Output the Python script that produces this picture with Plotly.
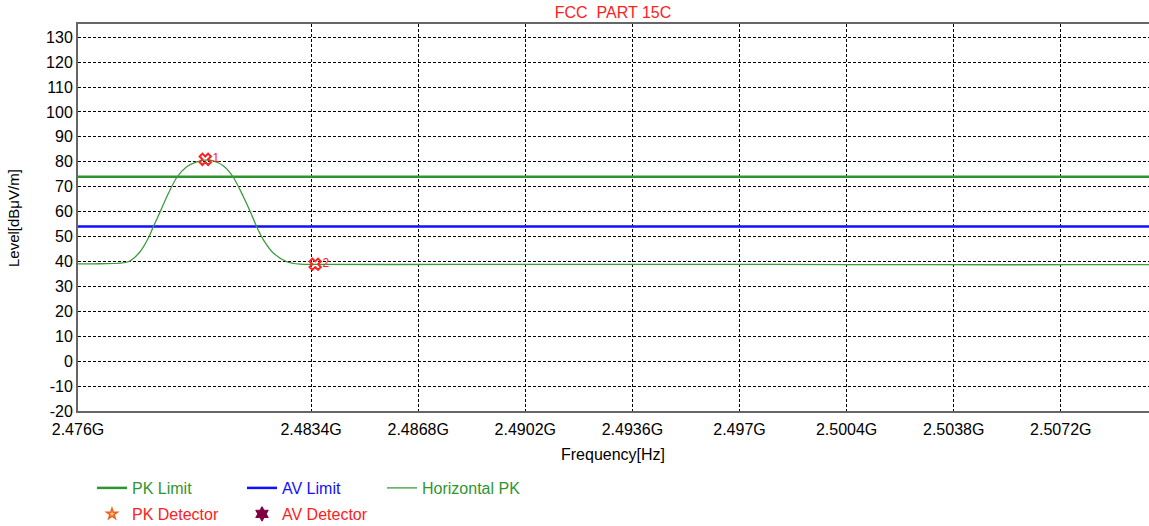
import plotly.graph_objects as go

# ---- data ----
freq_ghz = [2.47600, 2.47670, 2.47760, 2.47797, 2.47823, 2.47839, 2.47861, 2.47882,
            2.47914, 2.47945, 2.47977, 2.48004, 2.48030, 2.48062, 2.48093, 2.48125,
            2.48147, 2.48168, 2.48189, 2.48221, 2.48263, 2.48305, 2.48353, 2.48800,
            2.49300, 2.49800, 2.50300, 2.50800, 2.51000]
level_dbuv = [39.0, 39.1, 39.9, 43.9, 49.3, 53.9, 60.0, 66.0,
              73.8, 78.0, 80.0, 80.7, 80.4, 78.3, 73.8, 66.0,
              60.0, 53.7, 48.6, 43.3, 39.9, 38.9, 38.8, 38.8,
              38.8, 38.8, 38.7, 38.7, 38.7]

limit_x = [2.476, 2.51]
pk_limit = [74, 74]
av_limit = [54, 54]

marker_x = [2.48004, 2.48353]
marker_y = [81.0, 38.9]
marker_labels = ["1", "2"]

xtick_vals = [2.476, 2.4834, 2.4868, 2.4902, 2.4936, 2.4970, 2.5004, 2.5038, 2.5072]
xtick_text = ["2.476G", "2.4834G", "2.4868G", "2.4902G", "2.4936G", "2.497G",
              "2.5004G", "2.5038G", "2.5072G"]
ytick_vals = list(range(-20, 131, 10))
ytick_text = [str(v) for v in ytick_vals]

FONT = "Liberation Sans, Arial, sans-serif"
GREEN = "#2f962f"
BLUE = "#1010ff"
RED = "#ff2020"

W, H = 1149, 526
ML, MR, MT, MB = 78, 0, 24, 115
PW, PH = W - ML - MR, H - MT - MB

fig = go.Figure()

fig.add_trace(go.Scatter(x=limit_x, y=pk_limit, mode="lines", name="PK Limit",
                         line=dict(color=GREEN, width=2.5), legend="legend"))
fig.add_trace(go.Scatter(x=limit_x, y=av_limit, mode="lines", name="AV Limit",
                         line=dict(color=BLUE, width=2.5), legend="legend2"))
fig.add_trace(go.Scatter(x=freq_ghz, y=level_dbuv, mode="lines", name="Horizontal PK",
                         line=dict(color="#3c9c3c", width=1.3, shape="spline", smoothing=0.8),
                         legend="legend3"))
fig.add_trace(go.Scatter(x=[None], y=[None], mode="markers", name="PK Detector",
                         marker=dict(symbol="star", size=8, color="#ffc080",
                                     line=dict(color="#f06020", width=1.5)),
                         legend="legend4"))
fig.add_trace(go.Scatter(x=[None], y=[None], mode="markers", name="AV Detector",
                         marker=dict(symbol="hexagram", size=11, color="#800040",
                                     line=dict(color="#800040", width=1)),
                         legend="legend5"))
fig.add_trace(go.Scatter(x=marker_x, y=marker_y, mode="markers+text", text=marker_labels,
                         textposition="middle right", showlegend=False,
                         textfont=dict(color=RED, size=12, family=FONT),
                         marker=dict(symbol="x-open", size=10, color=RED,
                                     line=dict(color=RED, width=2))))


def leg(px, py, color):
    return dict(xref="container", yref="container", x=px / W, y=1 - py / H,
                xanchor="left", yanchor="middle", bgcolor="rgba(0,0,0,0)",
                font=dict(family=FONT, size=16, color=color), borderwidth=0)


def px_x(px):
    return (px - ML) / PW


def px_y(py):
    return (H - MB - py) / PH


fig.update_layout(
    width=W, height=H,
    margin=dict(l=ML, r=MR, t=MT, b=MB, pad=0, autoexpand=False),
    paper_bgcolor="white", plot_bgcolor="white",
    title=dict(text="FCC\u00a0 PART 15C", x=613 / W, xanchor="center", y=1 - 12 / H,
               yanchor="middle", xref="container", yref="container",
               font=dict(family=FONT, size=16, color=RED)),
    font=dict(family=FONT, size=16, color="black"),
    legend=leg(92, 488, GREEN),
    legend2=leg(242, 488, BLUE),
    legend3=leg(382, 488, GREEN),
    legend4=leg(92, 514, RED),
    legend5=leg(242, 514, RED),
    annotations=[
        dict(text="Frequency[Hz]", xref="paper", yref="paper", x=px_x(613), y=px_y(455),
             xanchor="center", yanchor="middle", showarrow=False,
             font=dict(family=FONT, size=16, color="black")),
        dict(text="Level[dBμV/m]", xref="paper", yref="paper", x=px_x(14), y=px_y(218),
             xanchor="center", yanchor="middle", showarrow=False, textangle=-90,
             font=dict(family=FONT, size=15, color="black")),
    ],
)

fig.update_xaxes(range=[2.476, 2.51], tickvals=xtick_vals, ticktext=xtick_text,
                 showgrid=True, gridcolor="black", gridwidth=1, griddash="3px,2px",
                 showline=True, linecolor="#666666", linewidth=2, mirror=True,
                 zeroline=False, ticks="", ticklabelstandoff=3, tickangle=0,
                 automargin=False,
                 tickfont=dict(family=FONT, size=16, color="black"))
fig.update_yaxes(range=[-20, 135.3], tickvals=ytick_vals, ticktext=ytick_text,
                 showgrid=True, gridcolor="black", gridwidth=1, griddash="3px,2px",
                 showline=True, linecolor="#666666", linewidth=2, mirror=True,
                 zeroline=False, ticks="", ticklabelstandoff=0, automargin=False,
                 tickfont=dict(family=FONT, size=16, color="black"))

fig.write_html("out.html", config={"displayModeBar": False},
               post_script="document.body.style.margin='0';"
                           "document.body.style.overflow='hidden';")
